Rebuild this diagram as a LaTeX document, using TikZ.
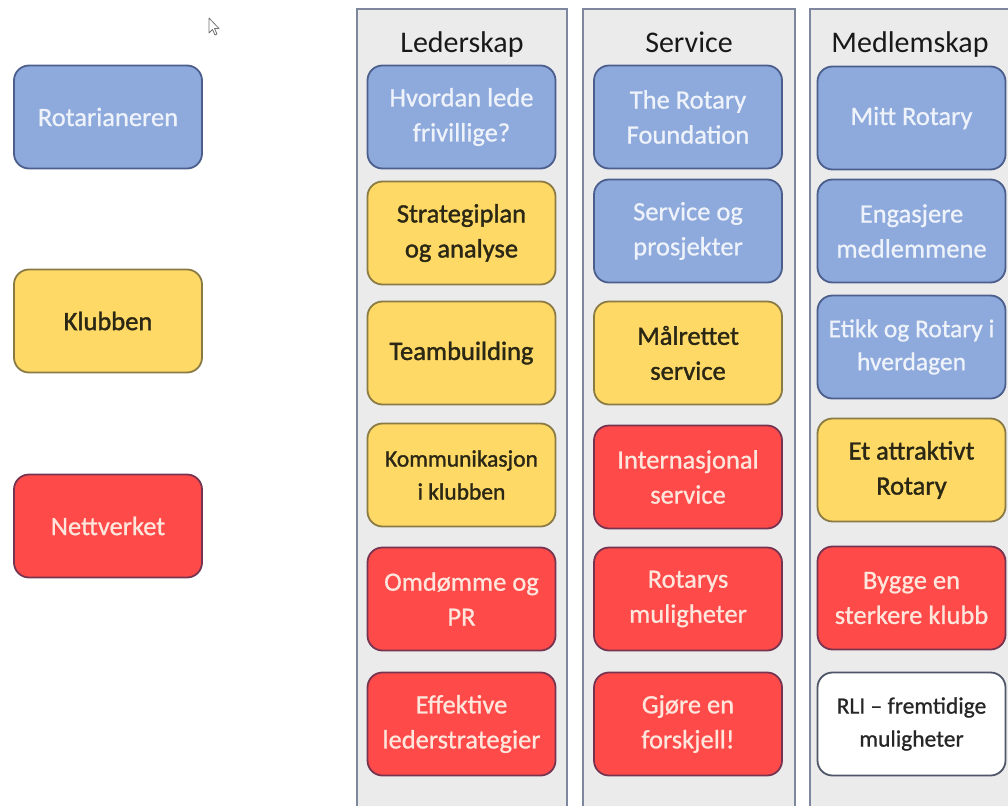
\documentclass[tikz,border=0pt]{standalone}
\usepackage{fontspec}
\setmainfont{Carlito}
\newfontfamily\lightcard{Carlito}[FakeBold=0.8]
\newfontfamily\darkcard{Carlito}[FakeBold=1.4]
\newcommand\cardsize{\fontsize{26.5}{35}\selectfont}
\newcommand\cardsmall{\fontsize{23.5}{33}\selectfont}
\definecolor{bfill}{HTML}{8EA9DB}
\definecolor{bdraw}{HTML}{4B5E8C}
\definecolor{btext}{HTML}{EEF2FA}
\definecolor{yfill}{HTML}{FFD966}
\definecolor{ydraw}{HTML}{8A7B45}
\definecolor{ytext}{HTML}{2B2715}
\definecolor{rfill}{HTML}{FF4A4A}
\definecolor{rdraw}{HTML}{763450}
\definecolor{rtext}{HTML}{FFE6DC}
\definecolor{pfill}{HTML}{EBEBEC}
\definecolor{pdraw}{HTML}{7E879E}
\definecolor{wdraw}{HTML}{4E5668}
\begin{document}
\begin{tikzpicture}[x=1pt,y=-1pt,
  card/.style={rounded corners=15pt, line width=1.8pt, minimum width=188pt, minimum height=103pt,
    align=center, inner sep=2pt},
  bluecard/.style={card, fill=bfill, draw=bdraw, text=btext, font=\lightcard\cardsize},
  yelcard/.style={card, fill=yfill, draw=ydraw, text=ytext, font=\darkcard\cardsize},
  redcard/.style={card, fill=rfill, draw=rdraw, text=rtext, font=\lightcard\cardsize},
  whitecard/.style={card, fill=white, draw=wdraw, text=black!85, font=\lightcard\cardsmall},
  panel/.style={fill=pfill, draw=pdraw, line width=1.5pt},
  title/.style={font=\fontsize{30}{36}\selectfont, text=black!90, anchor=base}
]
\useasboundingbox (0,0) rectangle (1008,805);
\fill[white] (0,0) rectangle (1008,805);
% panels
\draw[panel] (357,812) -- (357,9) -- (567,9) -- (567,812);
\draw[panel] (583,812) -- (583,9) -- (795,9) -- (795,812);
\draw[panel] (810,812) -- (810,9) -- (1015,9) -- (1015,812);
\node[title] (t1) at (462,53) {Lederskap};
\node[title] (t2) at (689,53) {Service};
\node[title] (t3) at (910,53) {Medlemskap};
% legend
\node[bluecard] (k1) at (108,117) {Rotarianeren};
\node[yelcard] (k2) at (108,321) {Klubben};
\node[redcard] (k3) at (108,526) {Nettverket};
% column 1
\node[bluecard] (a1) at (461.5,117) {Hvordan lede\\frivillige?};
\node[yelcard] (a2) at (461.5,233) {Strategiplan\\og analyse};
\node[yelcard] (a3) at (461.5,353) {Teambuilding};
\node[yelcard,font=\darkcard\cardsmall] (a4) at (461.5,475) {Kommunikasjon\\i klubben};
\node[redcard] (a5) at (461.5,599) {Omdømme og\\PR};
\node[redcard] (a6) at (461.5,724) {Effektive\\lederstrategier};
% column 2
\node[bluecard] (b1) at (688,117) {The Rotary\\Foundation};
\node[bluecard] (b2) at (688,231) {Service og\\prosjekter};
\node[yelcard] (b3) at (688,353) {Målrettet\\service};
\node[redcard] (b4) at (688,477) {Internasjonal\\service};
\node[redcard] (b5) at (688,599) {Rotarys\\muligheter};
\node[redcard] (b6) at (688,724) {Gjøre en\\forskjell!};
% column 3
\node[bluecard] (c1) at (911.5,118) {Mitt Rotary};
\node[bluecard] (c2) at (911.5,231) {Engasjere\\medlemmene};
\node[bluecard,font=\lightcard\fontsize{25.5}{33}\selectfont] (c3) at (911.5,347) {Etikk og Rotary i\\hverdagen};
\node[yelcard] (c4) at (911.5,470) {Et attraktivt\\Rotary};
\node[redcard] (c5) at (911.5,598) {Bygge en\\sterkere klubb};
\node[whitecard] (c6) at (911.5,724) {RLI – fremtidige\\muligheter};
% mouse cursor
\draw[black!55, line width=0.8pt, fill=white, line join=round]
  (209,18) -- (209,33) -- (212.5,29.5) -- (215,35) -- (217,34) -- (214.5,28.5) -- (219,28.5) -- cycle;
\end{tikzpicture}
\end{document}
